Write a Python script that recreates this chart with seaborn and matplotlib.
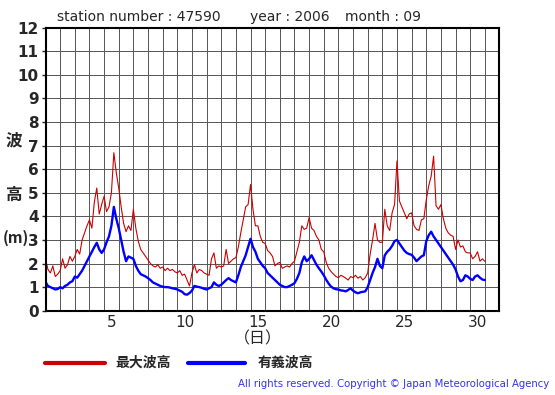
import matplotlib
matplotlib.use("Agg")
import matplotlib.pyplot as plt
import seaborn as sns
import pandas as pd
import numpy as np

# 4-hourly readings, one row per day (day 1 .. day 30, then the last point)
sig_wave = [
    1.22, 1.05, 1.00, 0.95, 0.90, 0.92,
    1.00, 0.95, 1.05, 1.10, 1.20, 1.25,
    1.45, 1.40, 1.55, 1.70, 1.90, 2.10,
    2.30, 2.50, 2.70, 2.88, 2.60, 2.45,
    2.60, 2.90, 3.15, 3.60, 4.40, 3.90,
    3.50, 3.00, 2.50, 2.10, 2.30, 2.25,
    2.20, 1.90, 1.70, 1.55, 1.50, 1.45,
    1.38, 1.30, 1.20, 1.15, 1.10, 1.05,
    1.02, 1.00, 1.00, 0.98, 0.95, 0.93,
    0.90, 0.85, 0.80, 0.70, 0.68, 0.75,
    0.85, 1.05, 1.02, 1.00, 0.97, 0.93,
    0.90, 0.95, 1.00, 1.20, 1.10, 1.05,
    1.10, 1.20, 1.30, 1.38, 1.30, 1.25,
    1.20, 1.50, 1.85, 2.10, 2.35, 2.70,
    3.05, 2.70, 2.50, 2.20, 2.05, 1.90,
    1.80, 1.60, 1.50, 1.40, 1.30, 1.20,
    1.10, 1.05, 1.00, 1.00, 1.05, 1.10,
    1.17, 1.35, 1.60, 2.05, 2.30, 2.10,
    2.20, 2.35, 2.15, 1.95, 1.80, 1.66,
    1.50, 1.31, 1.15, 1.02, 0.95, 0.91,
    0.90, 0.86, 0.85, 0.82, 0.88, 0.95,
    0.85, 0.78, 0.74, 0.78, 0.80, 0.82,
    1.00, 1.30, 1.60, 1.85, 2.20, 1.90,
    1.80, 2.35, 2.50, 2.60, 2.75, 2.95,
    3.00, 2.85, 2.70, 2.55, 2.45, 2.40,
    2.37, 2.25, 2.10, 2.20, 2.30, 2.35,
    2.95, 3.20, 3.35, 3.15, 3.00, 2.85,
    2.70, 2.55, 2.40, 2.25, 2.10, 1.95,
    1.75, 1.45, 1.25, 1.30, 1.50, 1.45,
    1.35, 1.30, 1.45, 1.50, 1.40, 1.32,
    1.30,
]
max_wave = [
    2.20, 1.75, 1.60, 1.90, 1.45, 1.55,
    1.70, 2.20, 1.80, 1.95, 2.30, 2.10,
    2.30, 2.60, 2.40, 3.00, 3.30, 3.60,
    3.85, 3.50, 4.60, 5.20, 4.10, 4.50,
    4.85, 4.20, 4.40, 5.00, 6.70, 5.85,
    5.20, 4.40, 3.70, 3.35, 3.60, 3.40,
    4.30, 3.50, 2.95, 2.60, 2.45, 2.30,
    2.15, 2.00, 1.90, 1.85, 1.95, 1.80,
    1.85, 1.70, 1.80, 1.70, 1.75, 1.65,
    1.60, 1.70, 1.50, 1.55, 1.30, 1.05,
    1.60, 1.95, 1.60, 1.75, 1.70, 1.60,
    1.55, 1.50, 2.20, 2.45, 1.80, 1.90,
    1.85, 1.90, 2.60, 2.00, 2.10, 2.20,
    2.25, 2.70, 3.30, 3.85, 4.40, 4.50,
    5.35, 4.30, 3.60, 3.60, 3.15, 2.90,
    2.85, 2.55, 2.45, 2.30, 1.90, 2.00,
    2.05, 1.80, 1.85, 1.90, 1.85, 2.00,
    2.10, 2.50, 2.90, 3.60, 3.45, 3.50,
    3.95, 3.50, 3.40, 3.15, 3.00, 2.60,
    2.50, 2.05, 1.80, 1.66, 1.55, 1.45,
    1.40, 1.50, 1.45, 1.38, 1.30, 1.45,
    1.40, 1.50, 1.38, 1.45, 1.30, 1.40,
    1.60, 2.40, 3.00, 3.70, 3.00, 2.90,
    2.90, 4.30, 3.60, 3.40, 4.15, 4.50,
    6.35, 4.65, 4.40, 4.15, 3.90, 4.10,
    4.15, 3.60, 3.45, 3.40, 3.85, 3.90,
    4.70, 5.30, 5.70, 6.55, 4.45, 4.30,
    4.50, 3.90, 3.50, 3.30, 3.20, 3.15,
    2.60, 3.00, 2.70, 2.75, 2.50, 2.45,
    2.45, 2.20, 2.30, 2.50, 2.10, 2.20,
    2.09,
]
day_labels = [5, 10, 15, 20, 25, 30]
y_ticks = list(range(0, 13))

days = np.arange(len(sig_wave)) / 6.0
df = pd.DataFrame({"t": days, "max": max_wave, "sig": sig_wave})

sns.set_style("white")
plt.rcParams['font.family'] = ['DejaVu Sans', 'Noto Sans CJK JP']
cjk = ['Noto Sans CJK JP', 'DejaVu Sans']

fig = plt.figure(figsize=(5.55, 3.95), dpi=100)
ax = fig.add_axes([0.082, 0.2134, 0.818, 0.7166])

sns.lineplot(data=df, x="t", y="max", color="#cc0000", linewidth=0.8, ax=ax)
sns.lineplot(data=df, x="t", y="sig", color="#0000ff", linewidth=1.7, ax=ax)

ax.set_xlim(0, 31)
ax.set_ylim(0, 12)
ax.set_xticks(np.arange(0, 32, 1))
ax.set_xticklabels([])
ax.set_xticks([d - 0.5 for d in day_labels], minor=True)
ax.set_xticklabels([str(d) for d in day_labels], minor=True, fontsize=11)
ax.tick_params(axis="x", which="both", length=0, pad=3)
ax.set_yticks(y_ticks)
ax.set_yticklabels([str(v) for v in y_ticks], fontsize=11, fontweight="bold")
ax.tick_params(axis="y", length=3, width=1, pad=2, direction="out", left=True)
ax.grid(True, which="major", color="#5a5a5a", linewidth=0.72)
ax.set_xlabel("")
ax.set_ylabel("")
for s in ax.spines.values():
    s.set_color("black")
    s.set_linewidth(1.5)

fig.text(57 / 555, 1 - 17 / 395, "station number : 47590", fontsize=10, va="center")
fig.text(250 / 555, 1 - 17 / 395, "year : 2006", fontsize=10, va="center")
fig.text(345 / 555, 1 - 17 / 395, "month : 09", fontsize=10, va="center")

fig.text(14 / 555, 1 - 140 / 395, "波", family=cjk, fontsize=12, fontweight="bold", ha="center", va="center")
fig.text(14 / 555, 1 - 195 / 395, "高", family=cjk, fontsize=12, fontweight="bold", ha="center", va="center")
fig.text(16 / 555, 1 - 238 / 395, "(m)", family=cjk, fontsize=11, fontweight="bold", ha="center", va="center")
fig.text(258 / 555, 1 - 339 / 395, "（日）", family=cjk, fontsize=11.5, ha="center", va="center")

fig.add_artist(plt.Line2D([45 / 555, 105 / 555], [1 - 363 / 395] * 2, color="#cc0000", linewidth=3))
fig.text(115 / 555, 1 - 363 / 395, "最大波高", family=cjk, fontsize=10, fontweight="bold", va="center")
fig.add_artist(plt.Line2D([188 / 555, 245 / 555], [1 - 363 / 395] * 2, color="#0000ff", linewidth=3))
fig.text(258 / 555, 1 - 363 / 395, "有義波高", family=cjk, fontsize=10, fontweight="bold", va="center")

fig.text(549 / 555, 1 - 384 / 395, "All rights reserved. Copyright © Japan Meteorological Agency",
         fontsize=7.3, color="#3333ee", ha="right", va="center")

fig.savefig("out.png", dpi=100)
